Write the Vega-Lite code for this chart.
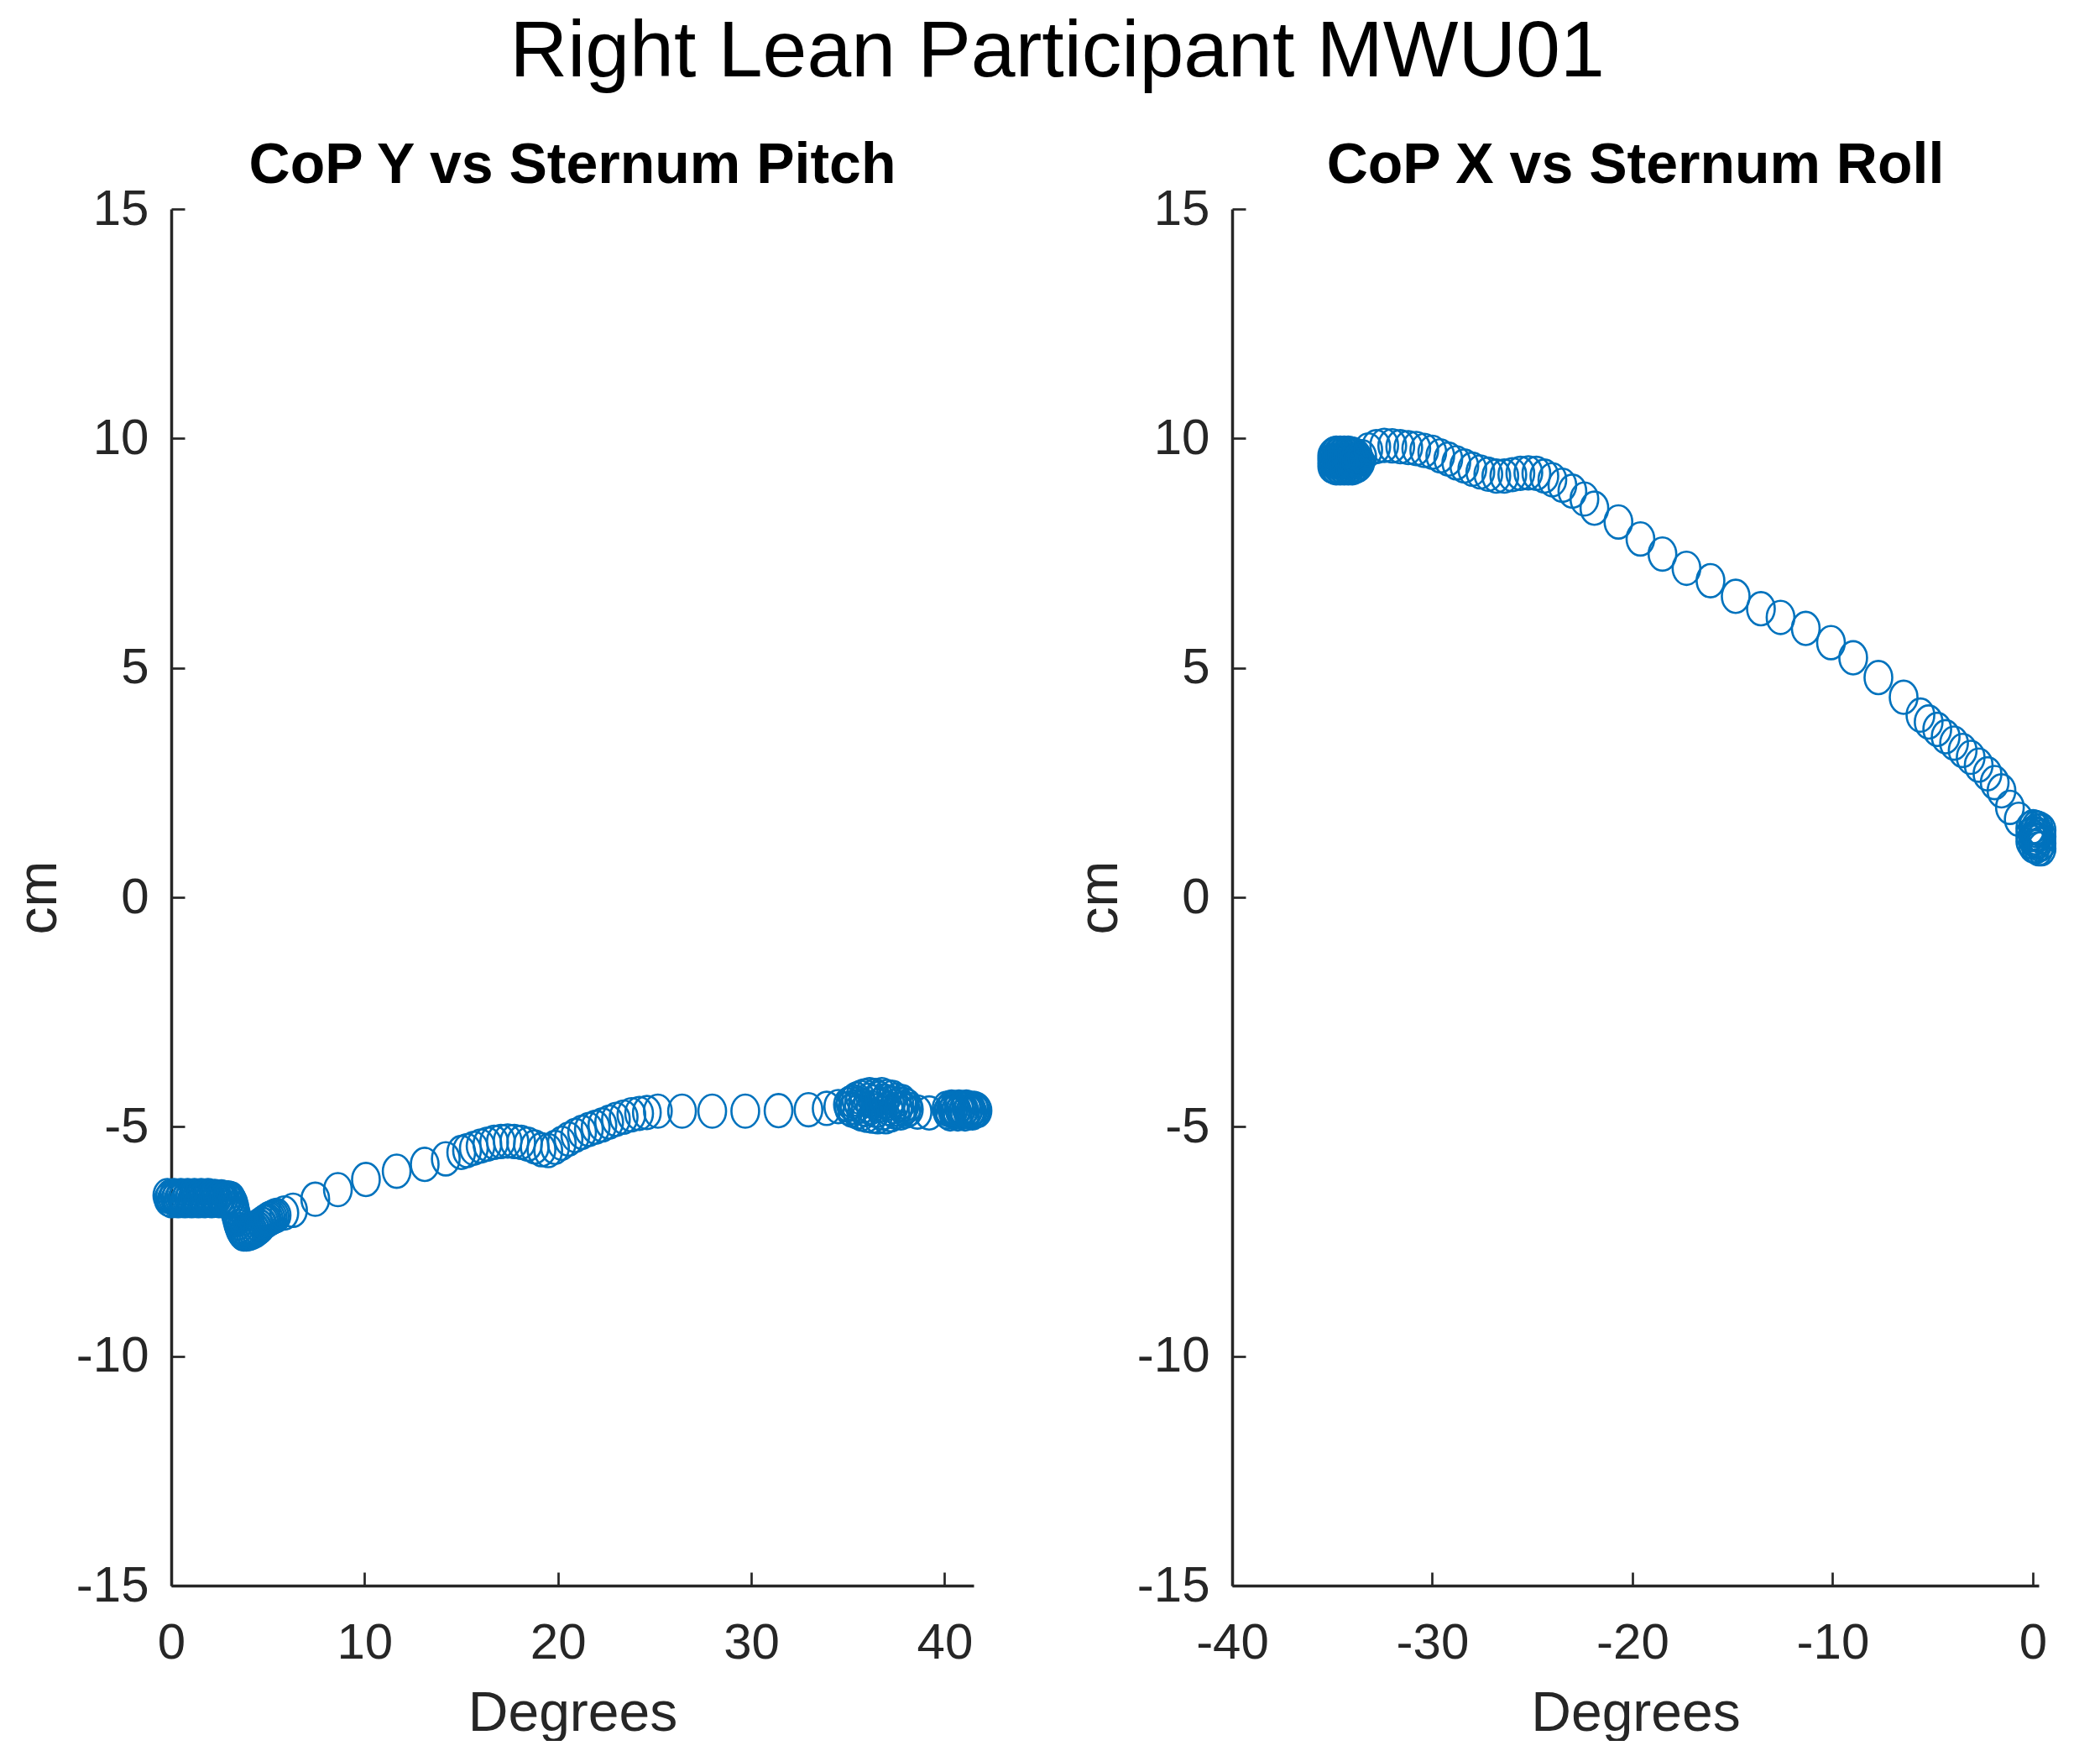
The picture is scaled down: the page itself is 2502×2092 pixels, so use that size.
{
  "$schema": "https://vega.github.io/schema/vega-lite/v6.json",
  "background": "white",
  "padding": {"left": 13, "top": 15, "right": 0, "bottom": 0},
  "title": {
    "text": "Right Lean Participant MWU01",
    "font": "Liberation Sans",
    "fontSize": 95,
    "fontWeight": "normal",
    "color": "#000000",
    "anchor": "middle",
    "baseline": "alphabetic",
    "offset": -22,
    "dx": 26
  },
  "spacing": 90,
  "config": {
    "view": {"stroke": null},
    "font": "Liberation Sans",
    "axis": {
      "grid": false,
      "domainColor": "#262626",
      "domainWidth": 3.5,
      "tickColor": "#262626",
      "tickSize": -16,
      "tickWidth": 2.7,
      "labelFont": "Liberation Sans",
      "labelFontSize": 60,
      "labelColor": "#262626",
      "labelFlush": false,
      "labelOverlap": false,
      "labelExpr": "datum.value < 0 ? '-' + abs(datum.value) : '' + datum.value",
      "titleFont": "Liberation Sans",
      "titleFontSize": 66,
      "titleFontWeight": "normal",
      "titleColor": "#262626"
    },
    "axisX": {"labelPadding": 55, "titlePadding": 22},
    "axisY": {"labelPadding": 43, "titlePadding": 24, "titleBaseline": "alphabetic"}
  },
  "datasets": {
    "pitch": [
      {"deg": -0.2, "cm": -6.5}, {"deg": -0.13, "cm": -6.58}, {"deg": -0.06, "cm": -6.53}, {"deg": 0.01, "cm": -6.61}, {"deg": 0.08, "cm": -6.55},
      {"deg": 0.15, "cm": -6.5}, {"deg": 0.22, "cm": -6.58}, {"deg": 0.29, "cm": -6.53}, {"deg": 0.36, "cm": -6.61}, {"deg": 0.43, "cm": -6.55},
      {"deg": 0.5, "cm": -6.5}, {"deg": 0.57, "cm": -6.58}, {"deg": 0.64, "cm": -6.53}, {"deg": 0.71, "cm": -6.61}, {"deg": 0.78, "cm": -6.55},
      {"deg": 0.85, "cm": -6.5}, {"deg": 0.92, "cm": -6.58}, {"deg": 0.99, "cm": -6.53}, {"deg": 1.06, "cm": -6.61}, {"deg": 1.13, "cm": -6.55},
      {"deg": 1.2, "cm": -6.5}, {"deg": 1.27, "cm": -6.58}, {"deg": 1.34, "cm": -6.53}, {"deg": 1.41, "cm": -6.61}, {"deg": 1.48, "cm": -6.55},
      {"deg": 1.55, "cm": -6.5}, {"deg": 1.62, "cm": -6.58}, {"deg": 1.69, "cm": -6.53}, {"deg": 1.76, "cm": -6.61}, {"deg": 1.83, "cm": -6.55},
      {"deg": 1.9, "cm": -6.5}, {"deg": 1.97, "cm": -6.58}, {"deg": 2.04, "cm": -6.53}, {"deg": 2.11, "cm": -6.61}, {"deg": 2.18, "cm": -6.55},
      {"deg": 2.25, "cm": -6.52}, {"deg": 2.32, "cm": -6.58}, {"deg": 2.39, "cm": -6.54}, {"deg": 2.46, "cm": -6.61}, {"deg": 2.53, "cm": -6.55},
      {"deg": 2.6, "cm": -6.53}, {"deg": 2.67, "cm": -6.59}, {"deg": 2.74, "cm": -6.55}, {"deg": 2.81, "cm": -6.62}, {"deg": 2.88, "cm": -6.56},
      {"deg": 2.95, "cm": -6.55}, {"deg": 3.02, "cm": -6.6}, {"deg": 3.09, "cm": -6.57}, {"deg": 3.16, "cm": -6.63},
      {"deg": 3.22, "cm": -6.68}, {"deg": 3.28, "cm": -6.78}, {"deg": 3.34, "cm": -6.9}, {"deg": 3.4, "cm": -7.0}, {"deg": 3.46, "cm": -7.1},
      {"deg": 3.52, "cm": -7.17}, {"deg": 3.58, "cm": -7.24}, {"deg": 3.64, "cm": -7.28}, {"deg": 3.7, "cm": -7.32}, {"deg": 3.76, "cm": -7.34},
      {"deg": 3.82, "cm": -7.3}, {"deg": 3.88, "cm": -7.34}, {"deg": 3.94, "cm": -7.28}, {"deg": 4.0, "cm": -7.33}, {"deg": 4.06, "cm": -7.26},
      {"deg": 4.12, "cm": -7.31}, {"deg": 4.18, "cm": -7.24}, {"deg": 4.24, "cm": -7.29}, {"deg": 4.3, "cm": -7.22}, {"deg": 4.36, "cm": -7.26},
      {"deg": 4.42, "cm": -7.2}, {"deg": 4.48, "cm": -7.22}, {"deg": 4.54, "cm": -7.16}, {"deg": 4.6, "cm": -7.18}, {"deg": 4.66, "cm": -7.12},
      {"deg": 4.72, "cm": -7.12}, {"deg": 4.8, "cm": -7.08}, {"deg": 4.88, "cm": -7.06}, {"deg": 4.96, "cm": -7.04}, {"deg": 5.05, "cm": -7.01},
      {"deg": 5.15, "cm": -6.99}, {"deg": 5.25, "cm": -6.97}, {"deg": 5.35, "cm": -6.95}, {"deg": 5.45, "cm": -6.93},
      {"deg": 5.85, "cm": -6.88}, {"deg": 6.3, "cm": -6.82}, {"deg": 7.45, "cm": -6.58}, {"deg": 8.62, "cm": -6.37},
      {"deg": 10.07, "cm": -6.15}, {"deg": 11.66, "cm": -5.97}, {"deg": 13.11, "cm": -5.82}, {"deg": 14.2, "cm": -5.7},
      {"deg": 15.0, "cm": -5.56}, {"deg": 15.3, "cm": -5.52}, {"deg": 15.65, "cm": -5.47}, {"deg": 16.0, "cm": -5.42},
      {"deg": 16.35, "cm": -5.38}, {"deg": 16.7, "cm": -5.34}, {"deg": 17.05, "cm": -5.32}, {"deg": 17.4, "cm": -5.31},
      {"deg": 17.75, "cm": -5.32}, {"deg": 18.1, "cm": -5.34}, {"deg": 18.45, "cm": -5.38}, {"deg": 18.8, "cm": -5.44},
      {"deg": 19.15, "cm": -5.5}, {"deg": 19.5, "cm": -5.52}, {"deg": 19.85, "cm": -5.45}, {"deg": 20.2, "cm": -5.36},
      {"deg": 20.55, "cm": -5.27}, {"deg": 20.9, "cm": -5.19}, {"deg": 21.25, "cm": -5.12}, {"deg": 21.6, "cm": -5.06},
      {"deg": 21.95, "cm": -5.01}, {"deg": 22.3, "cm": -4.96}, {"deg": 22.65, "cm": -4.9}, {"deg": 23.0, "cm": -4.84},
      {"deg": 23.4, "cm": -4.79}, {"deg": 23.8, "cm": -4.74}, {"deg": 24.2, "cm": -4.71}, {"deg": 24.6, "cm": -4.69},
      {"deg": 25.17, "cm": -4.66}, {"deg": 26.42, "cm": -4.66}, {"deg": 27.98, "cm": -4.66}, {"deg": 29.69, "cm": -4.66},
      {"deg": 31.41, "cm": -4.65}, {"deg": 32.96, "cm": -4.63}, {"deg": 33.9, "cm": -4.6}, {"deg": 34.5, "cm": -4.56},
      {"deg": 35.0, "cm": -4.52}, {"deg": 35.07, "cm": -4.6}, {"deg": 35.14, "cm": -4.48}, {"deg": 35.21, "cm": -4.64}, {"deg": 35.28, "cm": -4.45},
      {"deg": 35.35, "cm": -4.58}, {"deg": 35.42, "cm": -4.4}, {"deg": 35.49, "cm": -4.68}, {"deg": 35.56, "cm": -4.5}, {"deg": 35.63, "cm": -4.36},
      {"deg": 35.7, "cm": -4.72}, {"deg": 35.77, "cm": -4.55}, {"deg": 35.84, "cm": -4.33}, {"deg": 35.91, "cm": -4.62}, {"deg": 35.98, "cm": -4.75},
      {"deg": 36.05, "cm": -4.42}, {"deg": 36.12, "cm": -4.3}, {"deg": 36.19, "cm": -4.58}, {"deg": 36.26, "cm": -4.77}, {"deg": 36.33, "cm": -4.46},
      {"deg": 36.4, "cm": -4.32}, {"deg": 36.47, "cm": -4.65}, {"deg": 36.54, "cm": -4.78}, {"deg": 36.61, "cm": -4.38}, {"deg": 36.68, "cm": -4.52},
      {"deg": 36.75, "cm": -4.3}, {"deg": 36.82, "cm": -4.7}, {"deg": 36.89, "cm": -4.44}, {"deg": 36.96, "cm": -4.78}, {"deg": 37.03, "cm": -4.34},
      {"deg": 37.1, "cm": -4.6}, {"deg": 37.17, "cm": -4.48}, {"deg": 37.24, "cm": -4.74}, {"deg": 37.31, "cm": -4.36}, {"deg": 37.38, "cm": -4.56},
      {"deg": 37.45, "cm": -4.68}, {"deg": 37.52, "cm": -4.42}, {"deg": 37.59, "cm": -4.62}, {"deg": 37.66, "cm": -4.5}, {"deg": 37.73, "cm": -4.7},
      {"deg": 37.8, "cm": -4.45}, {"deg": 37.87, "cm": -4.6}, {"deg": 37.94, "cm": -4.52}, {"deg": 38.01, "cm": -4.66}, {"deg": 38.08, "cm": -4.55},
      {"deg": 38.15, "cm": -4.62}, {"deg": 38.6, "cm": -4.68}, {"deg": 39.2, "cm": -4.7},
      {"deg": 40.1, "cm": -4.6}, {"deg": 40.16, "cm": -4.68}, {"deg": 40.23, "cm": -4.63}, {"deg": 40.29, "cm": -4.72}, {"deg": 40.36, "cm": -4.57},
      {"deg": 40.42, "cm": -4.66}, {"deg": 40.48, "cm": -4.6}, {"deg": 40.55, "cm": -4.68}, {"deg": 40.61, "cm": -4.63}, {"deg": 40.68, "cm": -4.72},
      {"deg": 40.74, "cm": -4.57}, {"deg": 40.8, "cm": -4.66}, {"deg": 40.87, "cm": -4.6}, {"deg": 40.93, "cm": -4.68}, {"deg": 41.0, "cm": -4.63},
      {"deg": 41.06, "cm": -4.72}, {"deg": 41.12, "cm": -4.57}, {"deg": 41.19, "cm": -4.66}, {"deg": 41.25, "cm": -4.6}, {"deg": 41.32, "cm": -4.68},
      {"deg": 41.38, "cm": -4.63}, {"deg": 41.44, "cm": -4.7}, {"deg": 41.51, "cm": -4.6}, {"deg": 41.57, "cm": -4.66}, {"deg": 41.64, "cm": -4.62},
      {"deg": 41.7, "cm": -4.65}
    ],
    "roll": [
      {"deg": -35.0, "cm": 9.4}, {"deg": -35.0, "cm": 9.52}, {"deg": -35.0, "cm": 9.62},
      {"deg": -34.9, "cm": 9.38}, {"deg": -34.9, "cm": 9.5}, {"deg": -34.9, "cm": 9.66},
      {"deg": -34.8, "cm": 9.36}, {"deg": -34.8, "cm": 9.52}, {"deg": -34.8, "cm": 9.68},
      {"deg": -34.7, "cm": 9.38}, {"deg": -34.7, "cm": 9.5}, {"deg": -34.7, "cm": 9.66},
      {"deg": -34.6, "cm": 9.36}, {"deg": -34.6, "cm": 9.52}, {"deg": -34.6, "cm": 9.68},
      {"deg": -34.5, "cm": 9.38}, {"deg": -34.5, "cm": 9.5}, {"deg": -34.5, "cm": 9.66},
      {"deg": -34.4, "cm": 9.36}, {"deg": -34.4, "cm": 9.52}, {"deg": -34.4, "cm": 9.68},
      {"deg": -34.3, "cm": 9.38}, {"deg": -34.3, "cm": 9.5}, {"deg": -34.3, "cm": 9.66},
      {"deg": -34.2, "cm": 9.36}, {"deg": -34.2, "cm": 9.52}, {"deg": -34.2, "cm": 9.68},
      {"deg": -34.1, "cm": 9.38}, {"deg": -34.1, "cm": 9.5}, {"deg": -34.1, "cm": 9.66},
      {"deg": -34.0, "cm": 9.36}, {"deg": -34.0, "cm": 9.52}, {"deg": -34.0, "cm": 9.66},
      {"deg": -33.9, "cm": 9.38}, {"deg": -33.9, "cm": 9.5}, {"deg": -33.9, "cm": 9.64},
      {"deg": -33.8, "cm": 9.4}, {"deg": -33.8, "cm": 9.52}, {"deg": -33.8, "cm": 9.62},
      {"deg": -33.7, "cm": 9.42}, {"deg": -33.7, "cm": 9.55},
      {"deg": -33.6, "cm": 9.48}, {"deg": -33.5, "cm": 9.6},
      {"deg": -33.2, "cm": 9.75}, {"deg": -32.8, "cm": 9.82}, {"deg": -32.4, "cm": 9.85}, {"deg": -32.0, "cm": 9.84},
      {"deg": -31.6, "cm": 9.82}, {"deg": -31.2, "cm": 9.8}, {"deg": -30.8, "cm": 9.78}, {"deg": -30.4, "cm": 9.74},
      {"deg": -30.0, "cm": 9.7}, {"deg": -29.6, "cm": 9.62}, {"deg": -29.2, "cm": 9.55}, {"deg": -28.8, "cm": 9.47},
      {"deg": -28.4, "cm": 9.4}, {"deg": -28.0, "cm": 9.33}, {"deg": -27.6, "cm": 9.27}, {"deg": -27.2, "cm": 9.22},
      {"deg": -26.8, "cm": 9.18}, {"deg": -26.4, "cm": 9.18}, {"deg": -26.0, "cm": 9.21}, {"deg": -25.6, "cm": 9.24},
      {"deg": -25.2, "cm": 9.25}, {"deg": -24.8, "cm": 9.24}, {"deg": -24.4, "cm": 9.18}, {"deg": -24.0, "cm": 9.1},
      {"deg": -23.5, "cm": 8.98}, {"deg": -23.0, "cm": 8.85}, {"deg": -22.4, "cm": 8.68}, {"deg": -21.9, "cm": 8.48},
      {"deg": -20.7, "cm": 8.18}, {"deg": -19.6, "cm": 7.81}, {"deg": -18.5, "cm": 7.48}, {"deg": -17.3, "cm": 7.17},
      {"deg": -16.1, "cm": 6.9}, {"deg": -14.84, "cm": 6.56}, {"deg": -13.58, "cm": 6.29}, {"deg": -12.6, "cm": 6.1},
      {"deg": -11.34, "cm": 5.86}, {"deg": -10.08, "cm": 5.55}, {"deg": -8.97, "cm": 5.22}, {"deg": -7.71, "cm": 4.79},
      {"deg": -6.45, "cm": 4.36}, {"deg": -5.61, "cm": 3.97}, {"deg": -5.2, "cm": 3.82}, {"deg": -4.77, "cm": 3.66},
      {"deg": -4.35, "cm": 3.5}, {"deg": -3.93, "cm": 3.36}, {"deg": -3.5, "cm": 3.2}, {"deg": -3.1, "cm": 3.05},
      {"deg": -2.7, "cm": 2.88}, {"deg": -2.26, "cm": 2.69}, {"deg": -1.9, "cm": 2.5}, {"deg": -1.56, "cm": 2.32},
      {"deg": -1.14, "cm": 1.96}, {"deg": -0.7, "cm": 1.7},
      {"deg": -0.12, "cm": 1.5}, {"deg": -0.12, "cm": 1.36}, {"deg": -0.12, "cm": 1.22},
      {"deg": 0.02, "cm": 1.54}, {"deg": 0.02, "cm": 1.4}, {"deg": 0.02, "cm": 1.26}, {"deg": 0.02, "cm": 1.12},
      {"deg": 0.16, "cm": 1.52}, {"deg": 0.16, "cm": 1.38}, {"deg": 0.16, "cm": 1.24}, {"deg": 0.16, "cm": 1.1},
      {"deg": 0.3, "cm": 1.5}, {"deg": 0.3, "cm": 1.36}, {"deg": 0.3, "cm": 1.22}, {"deg": 0.3, "cm": 1.06},
      {"deg": 0.44, "cm": 1.46}, {"deg": 0.44, "cm": 1.32}, {"deg": 0.44, "cm": 1.18}, {"deg": 0.44, "cm": 1.06},
      {"deg": 0.23, "cm": 1.45}, {"deg": 0.09, "cm": 1.3}, {"deg": 0.37, "cm": 1.15}
    ]
  },
  "hconcat": [
    {
      "width": 956,
      "height": 1640,
      "data": {"name": "pitch"},
      "title": {
        "text": "CoP Y vs Sternum Pitch",
        "font": "Liberation Sans",
        "fontSize": 68,
        "fontWeight": "bold",
        "color": "#000000",
        "anchor": "middle",
        "frame": "group",
        "baseline": "alphabetic",
        "offset": -67
      },
      "mark": {
        "type": "point",
        "shape": "M-1,0A1,1.2,0,1,1,1,0A1,1.2,0,1,1,-1,0Z",
        "size": 1089,
        "filled": false,
        "stroke": "#0072BD",
        "strokeWidth": 2.6,
        "opacity": 1
      },
      "encoding": {
        "x": {
          "field": "deg",
          "type": "quantitative",
          "scale": {"domain": [0, 41.5], "nice": false, "zero": false},
          "axis": {"values": [0, 10, 20, 30, 40], "title": "Degrees"}
        },
        "y": {
          "field": "cm",
          "type": "quantitative",
          "scale": {"domain": [-15, 15], "nice": false, "zero": false},
          "axis": {"values": [-15, -10, -5, 0, 5, 10, 15], "title": "cm"}
        }
      }
    },
    {
      "width": 961,
      "height": 1640,
      "data": {"name": "roll"},
      "title": {
        "text": "CoP X vs Sternum Roll",
        "font": "Liberation Sans",
        "fontSize": 68,
        "fontWeight": "bold",
        "color": "#000000",
        "anchor": "middle",
        "frame": "group",
        "baseline": "alphabetic",
        "offset": -67
      },
      "mark": {
        "type": "point",
        "shape": "M-1,0A1,1.2,0,1,1,1,0A1,1.2,0,1,1,-1,0Z",
        "size": 1089,
        "filled": false,
        "stroke": "#0072BD",
        "strokeWidth": 2.6,
        "opacity": 1
      },
      "encoding": {
        "x": {
          "field": "deg",
          "type": "quantitative",
          "scale": {"domain": [-40, 0.3], "nice": false, "zero": false},
          "axis": {"values": [-40, -30, -20, -10, 0], "title": "Degrees"}
        },
        "y": {
          "field": "cm",
          "type": "quantitative",
          "scale": {"domain": [-15, 15], "nice": false, "zero": false},
          "axis": {"values": [-15, -10, -5, 0, 5, 10, 15], "title": "cm"}
        }
      }
    }
  ]
}
